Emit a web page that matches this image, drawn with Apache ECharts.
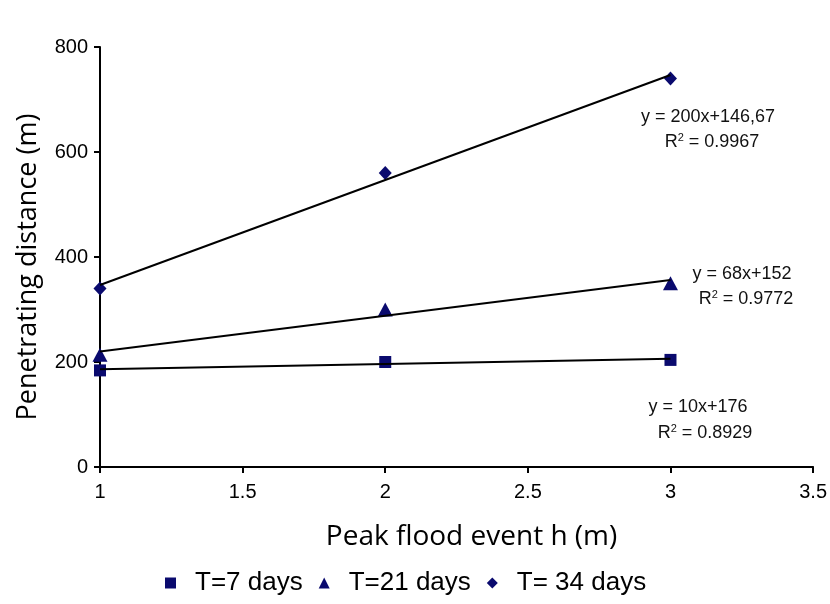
<!DOCTYPE html>
<html>
<head>
<meta charset="utf-8">
<script src="https://cdn.jsdelivr.net/npm/echarts@6/dist/echarts.min.js"></script>
<style>
  html, body { margin: 0; padding: 0; background: #fff; }
  #chart { width: 830px; height: 604px; }
</style>
</head>
<body>
<div id="chart"></div>
<script>
// peak flood event h (m)
const peakFlood = [1, 2, 3];
// penetrating distance (m) for each duration
const seriesNames = ['T=7 days', 'T=21 days', 'T= 34 days'];
const days7 = [184, 200, 204];
const days21 = [214, 300, 350];
const days34 = [340, 560, 740];
// trendline coefficients
const slopes = [10, 68, 200];
const intercepts = [176, 152, 146.67];
const equations = ['y = 10x+176', 'y = 68x+152', 'y = 200x+146,67'];
const rSquared = ['0.8929', '0.9772', '0.9967'];

const navy = '#0a0a6e';
const symbols = ['rect', 'triangle', 'diamond'];
const symbolSizes = [[12, 12], [15, 14], [13, 14]];
const allValues = [days7, days21, days34];

const chart = echarts.init(document.getElementById('chart'));

const series = [];
allValues.forEach((vals, i) => {
  // trendline over the data range
  const x0 = peakFlood[0], x1 = peakFlood[peakFlood.length - 1];
  series.push({
    type: 'line',
    data: [[x0, slopes[i] * x0 + intercepts[i]], [x1, slopes[i] * x1 + intercepts[i]]],
    symbol: 'none',
    lineStyle: { color: '#000', width: 2 },
    silent: true,
    z: 2
  });
  series.push({
    name: seriesNames[i],
    type: 'scatter',
    data: peakFlood.map((x, j) => [x, vals[j]]),
    symbol: symbols[i],
    symbolSize: symbolSizes[i],
    itemStyle: { color: navy, opacity: 1 },
    z: 1
  });
});

// equation annotations (centre x, middle y)
const eqPos = [[698, 407], [742, 274], [708, 117]];
const r2Pos = [[705, 433], [746, 299], [712, 142]];
const font = '"Liberation Sans", Arial, sans-serif';
const graphics = [];
eqPos.forEach((p, i) => {
  graphics.push({
    type: 'text', x: p[0], y: p[1],
    style: { text: equations[i], font: '18px ' + font, fill: '#111', align: 'center', verticalAlign: 'middle' }
  });
  graphics.push({
    type: 'text', x: r2Pos[i][0], y: r2Pos[i][1],
    style: {
      text: '{a|R}{s|2}{a| = ' + rSquared[i] + '}',
      align: 'center', verticalAlign: 'middle',
      rich: {
        a: { font: '18px ' + font, fill: '#111' },
        s: { font: '11px ' + font, fill: '#111', verticalAlign: 'top', padding: [0, 0, 8, 0] }
      }
    }
  });
});

chart.setOption({
  backgroundColor: '#fff',
  animation: false,
  grid: { left: 100, right: 15, top: 47, bottom: 137 },
  legend: {
    bottom: 3,
    left: 160,
    itemGap: 16,
    itemWidth: 11,
    itemHeight: 11,
    data: seriesNames.map(n => ({ name: n, itemStyle: { opacity: 1 } })),
    textStyle: { fontSize: 26, color: '#000', fontFamily: 'Liberation Sans, Arial, sans-serif', padding: [0, 0, 0, 14] }
  },
  xAxis: {
    type: 'value',
    min: 1, max: 3.5, interval: 0.5,
    name: 'Peak flood event h (m)',
    nameLocation: 'middle',
    nameGap: 56,
    nameTextStyle: { fontSize: 28, color: '#000', fontFamily: 'Open Sans, sans-serif', padding: [0, 0, 0, 30] },
    axisLine: { lineStyle: { color: '#000', width: 2 } },
    axisTick: { show: true, length: 6, lineStyle: { color: '#000', width: 2 } },
    axisLabel: { fontSize: 20, color: '#000', margin: 15, fontFamily: 'Liberation Sans, Arial, sans-serif' },
    splitLine: { show: false }
  },
  yAxis: {
    type: 'value',
    min: 0, max: 800, interval: 200,
    name: 'Penetrating distance (m)',
    nameLocation: 'middle',
    nameGap: 58,
    nameTextStyle: { fontSize: 27, color: '#000', fontFamily: 'Open Sans, sans-serif', padding: [0, 20, 0, 0] },
    axisLine: { show: true, lineStyle: { color: '#000', width: 2 } },
    axisTick: { show: true, length: 6, lineStyle: { color: '#000', width: 2 } },
    axisLabel: { fontSize: 20, color: '#000', margin: 12, fontFamily: 'Liberation Sans, Arial, sans-serif' },
    splitLine: { show: false }
  },
  graphic: graphics,
  series: series
});
</script>
</body>
</html>
